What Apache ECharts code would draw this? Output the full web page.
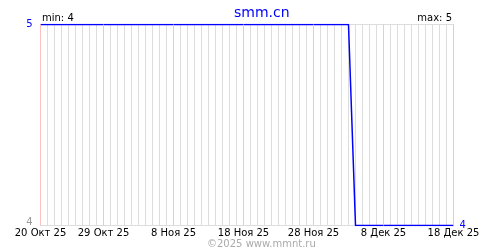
<!DOCTYPE html>
<html><head><meta charset="utf-8">
<script src="https://cdn.jsdelivr.net/npm/echarts@6/dist/echarts.min.js"></script>
<style>html,body{margin:0;padding:0;background:#fff}#c{width:500px;height:250px}</style>
</head><body><div id="c"></div>
<script>
// Dates: 20 Oct 2025 .. 18 Dec 2025 (daily)
const dates = [];
(function(){
  const mon = ['Янв','Фев','Мар','Апр','Май','Июн','Июл','Авг','Сен','Окт','Ноя','Дек'];
  const d = new Date(2025, 9, 20);
  const end = new Date(2025, 11, 18);
  while (d <= end) { dates.push(d.getDate() + ' ' + mon[d.getMonth()] + ' 25'); d.setDate(d.getDate() + 1); }
})();
const tickLabels = ['20 Окт 25','29 Окт 25','8 Ноя 25','18 Ноя 25','28 Ноя 25','8 Дек 25','18 Дек 25'];
const values = [
  5,5,5,5,5,5,5,5,5,5, 5,5,5,5,5,5,5,5,5,5,
  5,5,5,5,5,5,5,5,5,5, 5,5,5,5,5,5,5,5,5,5,
  5,5,5,5,5,
  4,4,4,4,4,4,4,4,4,4,4,4,4,4,4
];
const yMin = 4, yMax = 5;
const titleText = 'smm.cn';
const minText = 'min: 4';
const maxText = 'max: 5';
const copyright = '©2025 www.mmnt.ru';

const F = 'DejaVu Sans';
const chart = echarts.init(document.getElementById('c'), null, {renderer:'canvas'});
const isTick = (i) => tickLabels.indexOf(dates[i]) >= 0;
chart.setOption({
  animation: false,
  title: { text: titleText, left: 229, top: 1,
    textStyle: { color: '#0000ff', fontFamily: F, fontSize: 14, fontWeight: 'normal' } },
  grid: { left: 40.5, right: 46.5, top: 24.5, bottom: 24.5, show: true, borderColor: '#dddddd', borderWidth: 1 },
  xAxis: { type: 'category', data: dates, boundaryGap: false,
    axisLine: { show: true, lineStyle: { color: '#dddddd' } },
    axisTick: { show: false },
    axisLabel: { show: true, interval: (i) => isTick(i), color: '#000', fontFamily: F, fontSize: 10, margin: 3 },
    splitLine: { show: true, interval: 0, lineStyle: { color: '#dddddd', width: 1 } } },
  yAxis: { type: 'value', min: yMin, max: yMax, interval: 1,
    axisLine: { show: false }, axisTick: { show: false }, splitLine: { show: false },
    axisLabel: { margin: 8, fontFamily: F, fontSize: 10,
      formatter: (v) => v === 5 ? '{a|5}' : '{b|4}',
      rich: { a: { color: '#0000ff', fontFamily: F, fontSize: 10 },
              b: { color: '#999999', fontFamily: F, fontSize: 10, padding: [0,0,6,0] } } } },
  series: [{ type: 'line', data: values, symbol: 'none', z: 3,
    lineStyle: { color: '#0000ff', width: 1.5 },
    endLabel: { show: true, color: '#0000ff', fontFamily: F, fontSize: 10, distance: 6, formatter: '{c}' },
    markLine: { silent: true, symbol: ['none','none'], label: { show: false },
      emphasis: { disabled: true },
      lineStyle: { color: '#ffc0c0', type: 'solid', width: 1, opacity: 1 },
      data: tickLabels.map(t => [{ xAxis: t, yAxis: yMin }, { xAxis: t, yAxis: yMax }]) } }],
  graphic: [
    { type: 'text', left: 42, top: 13, style: { text: minText, fill: '#000', font: '10px "DejaVu Sans"' } },
    { type: 'text', right: 48, top: 13, style: { text: maxText, fill: '#000', font: '10px "DejaVu Sans"' } },
    { type: 'text', left: 207, top: 239, style: { text: copyright, fill: '#aaaaaa', font: '10px "DejaVu Sans"' } }
  ]
});
</script></body></html>
